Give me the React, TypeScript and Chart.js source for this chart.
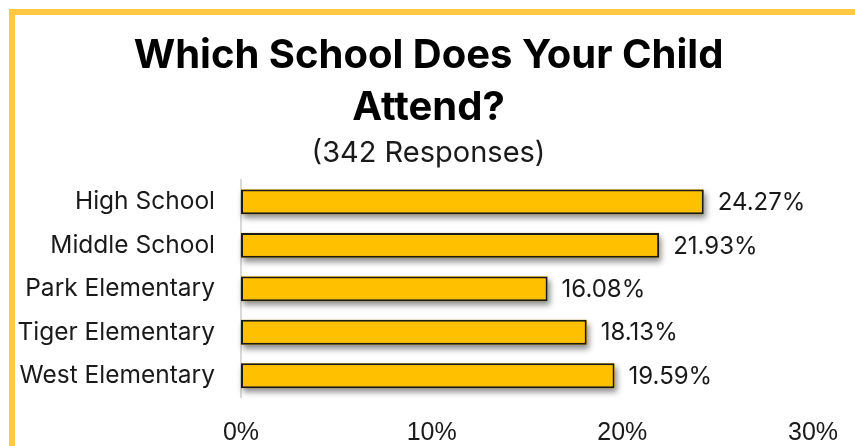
import React, { useEffect, useRef } from "react";
import { Chart, registerables } from "chart.js";

Chart.register(...registerables);

const categories = ["High School", "Middle School", "Park Elementary", "Tiger Elementary", "West Elementary"];
const percentages = [24.27, 21.93, 16.08, 18.13, 19.59];
const titleLines = ["Which School Does Your Child", "Attend?"];
const subtitleText = "(342 Responses)";
const axisMax = 30;
const axisStep = 10;

const framePlugin = {
  id: "frame",
  beforeDraw(chart: any) {
    const ctx = chart.ctx;
    ctx.save();
    ctx.fillStyle = "#ffffff";
    ctx.fillRect(0, 0, chart.width, chart.height);
    ctx.strokeStyle = "#FFC845";
    ctx.lineWidth = 6;
    ctx.strokeRect(12, 12, chart.width + 100, chart.height + 100);
    ctx.restore();
  },
};

const shadowPlugin = {
  id: "barShadow",
  beforeDatasetsDraw(chart: any) {
    const ctx = chart.ctx;
    const meta = chart.getDatasetMeta(0);
    ctx.save();
    ctx.shadowColor = "rgba(0,0,0,0.45)";
    ctx.shadowBlur = 6;
    ctx.shadowOffsetX = 2;
    ctx.shadowOffsetY = 4;
    ctx.fillStyle = "#FFC000";
    meta.data.forEach((bar: any) => {
      const p = bar.getProps(["x", "y", "base", "height"], true);
      ctx.fillRect(p.base, p.y - p.height / 2, p.x - p.base, p.height);
    });
    ctx.restore();
  },
};

const labelPlugin = {
  id: "valueLabels",
  afterDatasetsDraw(chart: any) {
    const ctx = chart.ctx;
    const meta = chart.getDatasetMeta(0);
    const data = chart.data.datasets[0].data;
    ctx.save();
    ctx.font = "24px Inter";
    ctx.fillStyle = "#1a1a1a";
    ctx.textAlign = "left";
    ctx.textBaseline = "middle";
    meta.data.forEach((bar: any, i: number) => {
      ctx.fillText(Number(data[i]).toFixed(2) + "%", bar.x + 14, bar.y + 1);
    });
    ctx.restore();
  },
};

export default function App() {
  const ref = useRef<HTMLCanvasElement | null>(null);
  useEffect(() => {
    document.body.style.margin = "0";
    if (!ref.current) return;
    const chart = new Chart(ref.current, {
      type: "bar",
      data: {
        labels: categories,
        datasets: [
          {
            data: percentages,
            backgroundColor: "#FFC000",
            borderColor: "#1a1a1a",
            borderWidth: 2,
            borderSkipped: false,
            barPercentage: 0.57,
            categoryPercentage: 1,
          },
        ],
      },
      options: {
        indexAxis: "y",
        responsive: false,
        animation: false,
        layout: { padding: { left: 10, right: 8, top: 0, bottom: 0 } },
        plugins: {
          legend: { display: false },
          tooltip: { enabled: false },
          title: {
            display: true,
            text: titleLines,
            color: "#000000",
            font: { family: "Inter", size: 40, weight: "bold", lineHeight: 1.3 },
            padding: { top: 30.25, bottom: 0 },
          },
          subtitle: {
            display: true,
            text: subtitleText,
            color: "#1a1a1a",
            font: { family: "Inter", size: 29, weight: "normal", lineHeight: 1.2 },
            padding: { top: 1.4, bottom: 9.6 },
          },
        },
        scales: {
          x: {
            min: 0,
            max: axisMax,
            grid: { display: false, drawTicks: false },
            border: { display: false },
            afterFit: (scale: any) => {
              scale.height = 48.5;
              scale.paddingRight = 42;
            },
            ticks: {
              stepSize: axisStep,
              padding: 20.7,
              color: "#1a1a1a",
              font: { family: "Liberation Sans", size: 25 },
              callback: (v: any) => v + "%",
            },
          },
          y: {
            grid: { display: false, drawTicks: false },
            border: { display: true, color: "#d9d9d9", width: 2 },
            afterFit: (scale: any) => {
              scale.width = 231;
            },
            ticks: {
              padding: 26,
              color: "#1a1a1a",
              font: { family: "Inter", size: 24.5 },
            },
          },
        },
      },
      plugins: [framePlugin, shadowPlugin, labelPlugin],
    });
    return () => chart.destroy();
  }, []);
  return (
    <div style={{ width: 855, height: 446 }}>
      <canvas ref={ref} width={855} height={446} />
    </div>
  );
}
